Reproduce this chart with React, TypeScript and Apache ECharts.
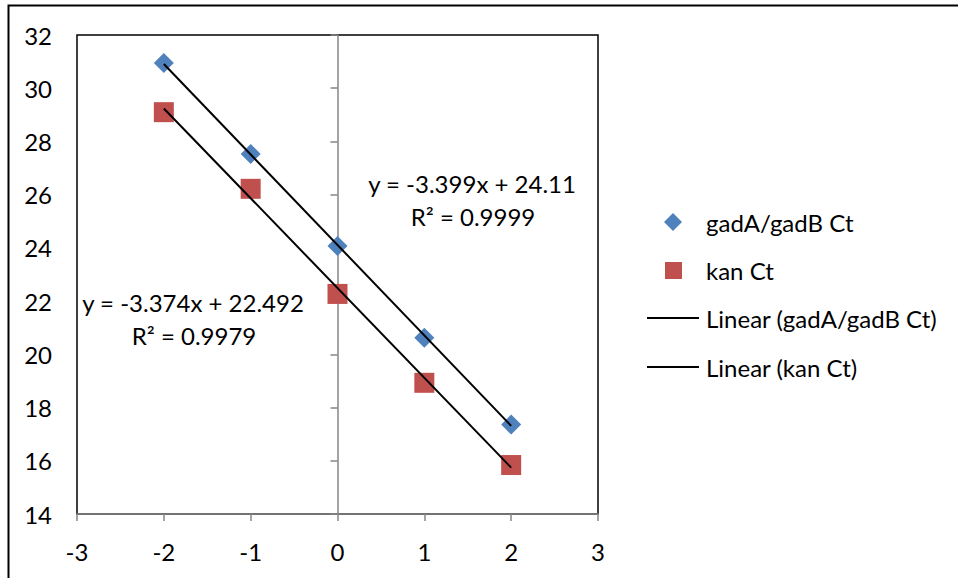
import React, { useEffect, useRef } from "react";
import * as echarts from "echarts";

const xValues = [-2, -1, 0, 1, 2];
const gadCt = [30.95, 27.53, 24.07, 20.62, 17.36];
const kanCt = [29.1, 26.22, 22.27, 18.93, 15.84];
const trendSlopes = [-3.399, -3.374];
const trendIntercepts = [24.11, 22.492];
const trendRange = [-2, 2];
const seriesNames = ["gadA/gadB Ct", "kan Ct", "Linear (gadA/gadB Ct)", "Linear (kan Ct)"];
const eqLabels = ["y = -3.399x + 24.11", "R² = 0.9999", "y = -3.374x + 22.492", "R² = 0.9979"];

const FONT = "Lato, 'Open Sans', sans-serif";
const FS = 24;

export default function App() {
  const ref = useRef<HTMLDivElement>(null);
  useEffect(() => {
    document.body.style.margin = "0";
    const chart = echarts.init(ref.current!, null, { renderer: "svg" });
    const trend = (i: number) =>
      trendRange.map((x) => [x, trendSlopes[i] * x + trendIntercepts[i]]);
    const textStyle = (t: string, x: number, y: number, align = "center") => ({
      type: "text",
      x,
      y,
      style: {
        text: t,
        fill: "#000",
        font: `${FS}px ${FONT}`,
        textAlign: align,
        textVerticalAlign: "middle",
      },
      z: 10,
    });
    chart.setOption({
      animation: false,
      backgroundColor: "#fff",
      textStyle: { fontFamily: FONT },
      grid: {
        left: 77,
        top: 35,
        right: 360,
        bottom: 64,
        show: true,
        borderColor: "#000",
        borderWidth: 1.5,
        backgroundColor: "transparent",
      },
      xAxis: {
        type: "value",
        min: -3,
        max: 3,
        interval: 1,
        splitLine: { show: false },
        axisLine: { show: true, onZero: false, lineStyle: { color: "#868686", width: 1.5 } },
        axisTick: { show: true, inside: false, length: 7, lineStyle: { color: "#868686", width: 1.5 } },
        axisLabel: { color: "#000", fontSize: FS, fontFamily: FONT, margin: 25 },
      },
      yAxis: [
        {
          type: "value",
          min: 14,
          max: 32,
          interval: 2,
          splitLine: { show: false },
          axisLine: { show: true, onZero: true, lineStyle: { color: "#868686", width: 1.5 } },
          axisTick: { show: true, inside: false, length: 7, lineStyle: { color: "#868686", width: 1.5 } },
          axisLabel: { show: false },
          z: 3,
        },
        {
          type: "value",
          min: 14,
          max: 32,
          interval: 2,
          position: "left",
          splitLine: { show: false },
          axisLine: { show: false, onZero: false },
          axisTick: { show: false },
          axisLabel: { color: "#000", fontSize: FS, fontFamily: FONT, margin: 25 },
        },
      ],
      series: [
        {
          name: seriesNames[2],
          type: "line",
          data: trend(0),
          symbol: "none",
          lineStyle: { color: "#000", width: 2 },
          z: 4,
        },
        {
          name: seriesNames[3],
          type: "line",
          data: trend(1),
          symbol: "none",
          lineStyle: { color: "#000", width: 2 },
          z: 4,
        },
        {
          name: seriesNames[0],
          type: "scatter",
          data: xValues.map((x, i) => [x, gadCt[i]]),
          symbol: "diamond",
          symbolSize: 20,
          itemStyle: { color: "#4F81BD", opacity: 1 },
          z: 3,
        },
        {
          name: seriesNames[1],
          type: "scatter",
          data: xValues.map((x, i) => [x, kanCt[i]]),
          symbol: "rect",
          symbolSize: 20,
          itemStyle: { color: "#C0504D", opacity: 1 },
          z: 3,
        },
      ],
      graphic: [
        {
          type: "rect",
          shape: { x: 8.5, y: 5.5, width: 1000, height: 1000 },
          style: { fill: "none", stroke: "#000", lineWidth: 2 },
          z: 20,
        },
        textStyle(eqLabels[0], 472, 183),
        textStyle(eqLabels[1], 473, 216),
        textStyle(eqLabels[2], 193, 302),
        textStyle(eqLabels[3], 194, 335),
        {
          type: "polygon",
          shape: { points: [[673, 213], [682, 222], [673, 231], [664, 222]] },
          style: { fill: "#4F81BD" },
        },
        {
          type: "rect",
          shape: { x: 665, y: 262, width: 17, height: 17 },
          style: { fill: "#C0504D" },
        },
        {
          type: "line",
          shape: { x1: 647, y1: 318, x2: 699, y2: 318 },
          style: { stroke: "#000", lineWidth: 2 },
        },
        {
          type: "line",
          shape: { x1: 647, y1: 367, x2: 699, y2: 367 },
          style: { stroke: "#000", lineWidth: 2 },
        },
        textStyle(seriesNames[0], 706, 222, "left"),
        textStyle(seriesNames[1], 706, 270, "left"),
        textStyle(seriesNames[2], 706, 318, "left"),
        textStyle(seriesNames[3], 706, 367, "left"),
      ],
    });
    return () => chart.dispose();
  }, []);
  return <div ref={ref} style={{ width: 958, height: 578 }} />;
}
